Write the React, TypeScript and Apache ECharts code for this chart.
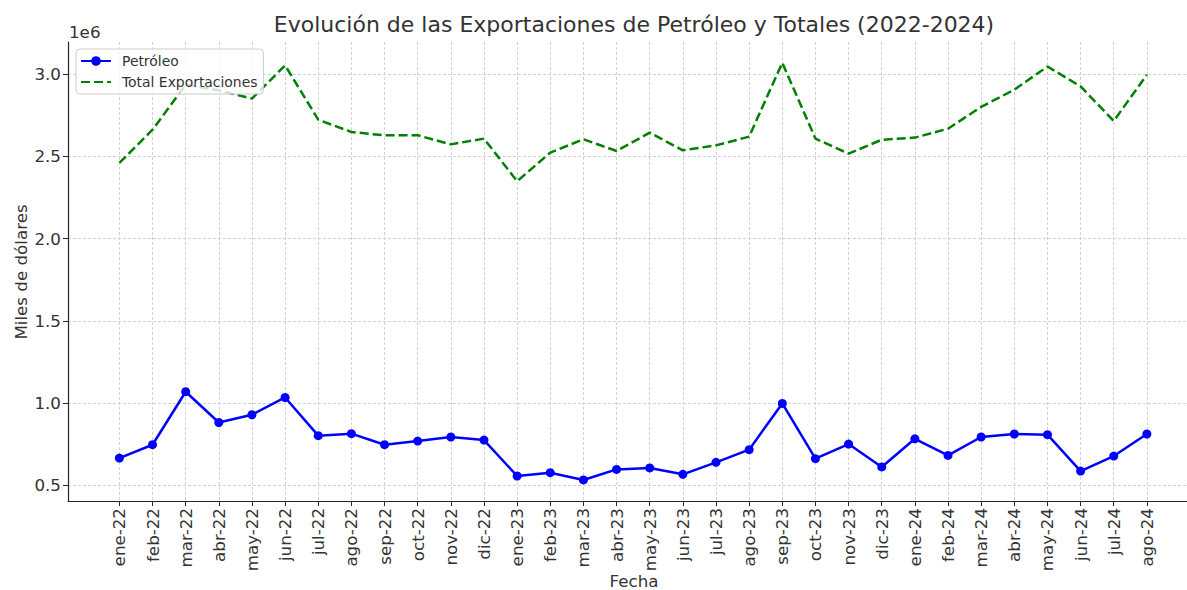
import React, { useEffect, useRef } from "react";
import * as echarts from "echarts";

const months = [
  "ene-22", "feb-22", "mar-22", "abr-22", "may-22", "jun-22", "jul-22", "ago-22",
  "sep-22", "oct-22", "nov-22", "dic-22", "ene-23", "feb-23", "mar-23", "abr-23",
  "may-23", "jun-23", "jul-23", "ago-23", "sep-23", "oct-23", "nov-23", "dic-23",
  "ene-24", "feb-24", "mar-24", "abr-24", "may-24", "jun-24", "jul-24", "ago-24",
];

const petroleo = [
  666000, 747000, 1069000, 882000, 929000, 1034000, 802000, 814000,
  747000, 769000, 794000, 775000, 557000, 577000, 533000, 597000,
  606000, 567000, 640000, 717000, 998000, 662000, 751000, 612000,
  783000, 682000, 794000, 812000, 808000, 587000, 678000, 812000,
];

const totales = [
  2459000, 2661000, 2935000, 2900000, 2850000, 3052000, 2722000, 2647000,
  2627000, 2627000, 2572000, 2607000, 2348000, 2522000, 2603000, 2532000,
  2643000, 2536000, 2566000, 2619000, 3068000, 2607000, 2516000, 2600000,
  2613000, 2667000, 2800000, 2904000, 3045000, 2924000, 2714000, 2995000,
];

const yTicks = [500000, 1000000, 1500000, 2000000, 2500000, 3000000];

const FONT = "DejaVu Sans";
const TEXT = "#333333";
const AXIS = "#262626";
const GRID = "#d2d2d2";

export default function App() {
  const ref = useRef<HTMLDivElement>(null);

  useEffect(() => {
    if (!ref.current) return;
    const chart = echarts.init(ref.current, undefined, { renderer: "svg" });
    const xIdx = months.map((_, i) => i);
    chart.setOption({
      animation: false,
      backgroundColor: "#ffffff",
      textStyle: { fontFamily: FONT },
      grid: { left: 68, right: 0, top: 42, bottom: 89, containLabel: false },
      graphic: [
        {
          type: "text",
          x: 634,
          y: 24,
          style: {
            text: "Evolución de las Exportaciones de Petróleo y Totales (2022-2024)",
            fontFamily: FONT,
            fontSize: 22,
            fill: TEXT,
            textAlign: "center",
            textVerticalAlign: "middle",
          },
        },
        {
          type: "text",
          x: 69,
          y: 32,
          style: {
            text: "1e6",
            fontFamily: FONT,
            fontSize: 16.7,
            fill: TEXT,
            textAlign: "left",
            textVerticalAlign: "middle",
          },
        },
        {
          type: "text",
          x: 21,
          y: 272,
          rotation: Math.PI / 2,
          style: {
            text: "Miles de dólares",
            fontFamily: FONT,
            fontSize: 16.7,
            fill: TEXT,
            textAlign: "center",
            textVerticalAlign: "middle",
          },
        },
        {
          type: "text",
          x: 634,
          y: 581,
          style: {
            text: "Fecha",
            fontFamily: FONT,
            fontSize: 16.7,
            fill: TEXT,
            textAlign: "center",
            textVerticalAlign: "middle",
          },
        },
      ],
      legend: {
        orient: "vertical",
        left: 76,
        top: 49,
        itemWidth: 30,
        itemHeight: 12,
        itemGap: 7,
        padding: [5, 6, 5, 4],
        backgroundColor: "rgba(255,255,255,0.8)",
        borderColor: "#cccccc",
        borderWidth: 1,
        borderRadius: 4,
        textStyle: { fontFamily: FONT, fontSize: 13.9, color: TEXT, padding: [0, 0, 0, 6] },
        data: [
          { name: "Petróleo" },
          { name: "Total Exportaciones", itemStyle: { opacity: 0 } },
        ],
      },
      xAxis: {
        type: "value",
        min: -1.55,
        max: 32.21,
        axisLine: { show: true, onZero: false, lineStyle: { color: AXIS, width: 1.2 } },
        axisTick: {
          show: true,
          customValues: xIdx,
          length: 5,
          lineStyle: { color: AXIS, width: 1 },
        },
        axisLabel: {
          customValues: xIdx,
          rotate: 90,
          margin: 7,
          fontFamily: FONT,
          fontSize: 16.7,
          color: TEXT,
          formatter: (v: number) => months[Math.round(v)] ?? "",
        },
        splitLine: {
          show: true,
          lineStyle: { color: GRID, type: [3, 2], width: 1 },
        },
      },
      yAxis: {
        type: "value",
        min: 405000,
        max: 3194000,
        axisLine: { show: true, onZero: false, lineStyle: { color: AXIS, width: 1.2 } },
        axisTick: {
          show: true,
          customValues: yTicks,
          length: 5,
          lineStyle: { color: AXIS, width: 1 },
        },
        axisLabel: {
          customValues: yTicks,
          margin: 7,
          fontFamily: FONT,
          fontSize: 16.7,
          color: TEXT,
          formatter: (v: number) => (v / 1e6).toFixed(1),
        },
        splitLine: {
          show: true,
          lineStyle: { color: GRID, type: [3, 2], width: 1 },
        },
      },
      series: [
        {
          name: "Petróleo",
          type: "line",
          data: petroleo.map((v, i) => [i, v]),
          symbol: "circle",
          symbolSize: 9,
          itemStyle: { color: "#0000ff" },
          lineStyle: { color: "#0000ff", width: 2.5 },
          z: 3,
        },
        {
          name: "Total Exportaciones",
          type: "line",
          data: totales.map((v, i) => [i, v]),
          symbol: "none",
          itemStyle: { color: "#008000" },
          lineStyle: { color: "#008000", width: 2.5, type: [9, 4] },
          z: 2,
        },
      ],
    });
    return () => chart.dispose();
  }, []);

  return (
    <div
      ref={ref}
      style={{ position: "fixed", left: 0, top: 0, width: 1187, height: 590 }}
    />
  );
}
